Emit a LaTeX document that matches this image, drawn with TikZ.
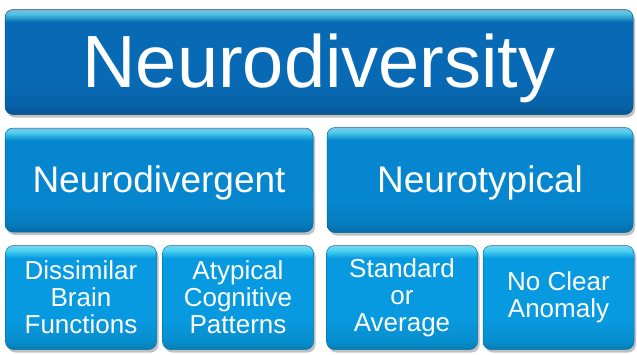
\documentclass[tikz,border=0pt]{standalone}
\usepackage{fontspec}
\setmainfont{Liberation Sans}
\usetikzlibrary{shadows}
\definecolor{topblue}{RGB}{8,106,180}
\definecolor{midblue}{RGB}{6,134,206}
\definecolor{lowblue}{RGB}{8,154,224}
% bevelled fills: thin light rim at the top, slightly darker foot
\pgfdeclareverticalshading{topshade}{100bp}{color(0bp)=(topblue!80!black); color(25bp)=(topblue!80!black);
  color(29bp)=(topblue!92!black); color(40bp)=(topblue); color(69bp)=(topblue);
  color(73bp)=(topblue!55!cyan!70!white); color(75bp)=(topblue!50!white); color(100bp)=(topblue!50!white)}
\pgfdeclareverticalshading{midshade}{100bp}{color(0bp)=(midblue!80!black); color(25bp)=(midblue!80!black);
  color(29bp)=(midblue!92!black); color(40bp)=(midblue); color(69bp)=(midblue);
  color(73bp)=(midblue!55!cyan!70!white); color(75bp)=(midblue!50!white); color(100bp)=(midblue!50!white)}
\pgfdeclareverticalshading{lowshade}{100bp}{color(0bp)=(lowblue!80!black); color(25bp)=(lowblue!80!black);
  color(29bp)=(lowblue!92!black); color(40bp)=(lowblue); color(69bp)=(lowblue);
  color(73bp)=(lowblue!55!cyan!70!white); color(75bp)=(lowblue!50!white); color(100bp)=(lowblue!50!white)}
\tikzset{
  tile/.style={rounded corners=8pt, draw=#1blue!75!black, line width=0.5pt,
    shading=#1shade,
    drop shadow={shadow xshift=2pt, shadow yshift=-3pt, opacity=0.35, fill=black!70},
    text=white, align=center, inner sep=0pt},
  leaf/.style={tile=low, minimum width=151pt, minimum height=104pt,
    font=\fontsize{26}{27}\selectfont},
}
\begin{document}
\begin{tikzpicture}[x=1pt,y=-1pt]
\useasboundingbox (0,0) rectangle (637,354);
% level 1
\node[tile=top, minimum width=628pt, minimum height=105pt,
  font=\fontsize{74}{80}\selectfont, text height=54pt, text depth=4pt]
  (root) at (319,62) {Neurodiversity};
% level 2
\node[tile=mid, minimum width=308pt, minimum height=104pt,
  font=\fontsize{37}{40}\selectfont, text height=27pt, text depth=3pt]
  (nd) at (159,180) {Neurodivergent};
\node[tile=mid, minimum width=306pt, minimum height=105pt,
  font=\fontsize{37}{40}\selectfont, text height=27pt, text depth=3pt]
  (nt) at (480,180) {Neurotypical};
% level 3
\node[leaf] (dbf) at (81,297.5) {Dissimilar\\Brain\\Functions};
\node[leaf] (acp) at (238,297.5) {Atypical\\Cognitive\\Patterns};
\node[leaf] (soa) at (402,297.5) {Standard\\or\\Average\vphantom{p}};
\node[leaf] (nca) at (558.5,297.5) {No Clear\\Anomaly};
\end{tikzpicture}
\end{document}
